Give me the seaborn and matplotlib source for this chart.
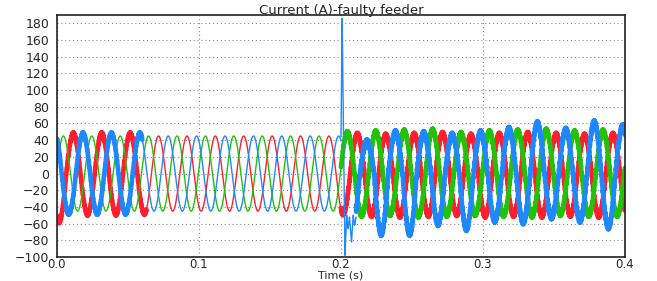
import numpy as np
import pandas as pd
import matplotlib
matplotlib.use("Agg")
import matplotlib.pyplot as plt
import seaborn as sns

# fundamental and the high-frequency ripple that makes the bands look thick
FREQ = 50.0
RIPPLE_FREQ = 1900.0
T_END = 0.4

# time of first positive peak per phase (s)
GREEN_T0 = 0.0045
RED_T0 = 0.0115
BLUE_T0 = -0.0017

# per-cycle positive peak / negative trough magnitudes (A),
# peaks at T0 + 0.02k, troughs at T0 - 0.01 + 0.02k, k = 0..20
GREEN_PEAKS = [45, 45, 45, 45, 45, 45, 45, 45, 45, 45,
               49, 50, 51, 52, 48, 50, 51, 52, 50, 51, 50]
GREEN_TROUGHS = [45, 45, 45, 45, 45, 45, 45, 45, 45, 45, 45,
                 50, 49, 51, 50, 49, 50, 51, 49, 50, 50]
RED_PEAKS = [48, 48, 48, 45, 45, 45, 45, 45, 45, 45,
             47, 46, 47, 48, 46, 47, 48, 47, 46, 47, 47]
RED_TROUGHS = [58, 49, 49, 48, 45, 45, 45, 45, 45, 45,
               48, 50, 51, 50, 49, 51, 50, 51, 50, 51, 50]
BLUE_PEAKS = [49, 48, 48, 48, 45, 45, 45, 45, 45, 45, 45,
              38, 49, 48, 46, 49, 53, 60, 52, 61, 56]
BLUE_TROUGHS = [48, 48, 48, 48, 45, 45, 45, 45, 45, 45, 45,
                58, 72, 72, 60, 66, 56, 58, 52, 56, 64]

# ripple amplitude (A), constant from each start time onward (0 = clean trace)
GREEN_RIPPLE_T = [0.0, 0.2]
GREEN_RIPPLE_A = [0.0, 2.0]
RED_RIPPLE_T = [0.0, 0.063, 0.2]
RED_RIPPLE_A = [1.5, 0.0, 2.0]
BLUE_RIPPLE_T = [0.0, 0.060, 0.2]
BLUE_RIPPLE_A = [1.5, 0.0, 3.0]

# fault transient on the blue phase
FAULT_T = [0.2000, 0.2008, 0.2028, 0.2040, 0.2050, 0.2060, 0.2074, 0.2086, 0.2096, 0.2106]
FAULT_I = [44, 186, -98, -50, -66, -52, -82, -50, -62, -52]

COLORS = {"green": "#22c20a", "red": "#ff1f2f", "blue": "#1f88ff"}
THIN_LW = 1.0
THICK_LW = 3.3


def build_phase(t, t0, peaks, troughs, ripple_t, ripple_a, shift):
    peaks = np.asarray(peaks, float)
    troughs = np.asarray(troughs, float)
    lobe = np.rint((t - (t0 - 0.01)) / 0.01).astype(int)
    amp = np.where(lobe % 2 == 0, troughs[lobe // 2], peaks[(lobe - 1) // 2])
    base = amp * np.cos(2 * np.pi * FREQ * (t - t0))
    idx = np.searchsorted(ripple_t, t, side="right") - 1
    ra = np.asarray(ripple_a)[idx]
    return base + ra * np.sin(2 * np.pi * RIPPLE_FREQ * t + shift), idx, ra > 0


t = np.arange(0.0, T_END, 1 / 50000)
green = build_phase(t, GREEN_T0, GREEN_PEAKS, GREEN_TROUGHS, GREEN_RIPPLE_T, GREEN_RIPPLE_A, 0.0)
red = build_phase(t, RED_T0, RED_PEAKS, RED_TROUGHS, RED_RIPPLE_T, RED_RIPPLE_A, 2.1)
blue = list(build_phase(t, BLUE_T0, BLUE_PEAKS, BLUE_TROUGHS, BLUE_RIPPLE_T, BLUE_RIPPLE_A, 4.2))
win = (t >= FAULT_T[0]) & (t <= FAULT_T[-1])
blue[0] = np.where(win, np.interp(t, FAULT_T, FAULT_I), blue[0])
blue[2] = blue[2] & ~win
blue[1] = np.where(win, -1, blue[1])

sns.set_theme(style="white")
plt.rcParams["font.family"] = ["DejaVu Sans"]

fig = plt.figure(figsize=(6.57, 2.81), dpi=100)
ax = fig.add_axes([57 / 657, 1 - 257 / 281, 568 / 657, 242 / 281])

for name, (vals, seg, noisy) in [("red", red), ("green", green), ("blue", blue)]:
    # split the trace into contiguous runs so thin and thick parts are drawn separately
    run = np.concatenate([[0], np.cumsum(np.diff(seg) != 0)])
    d = pd.DataFrame({"t": t, "i": vals, "run": run,
                      "w": np.where(noisy, "thick", "thin")})
    sns.lineplot(data=d, x="t", y="i", units="run", size="w",
                 sizes={"thin": THIN_LW, "thick": THICK_LW}, color=COLORS[name],
                 estimator=None, sort=False, legend=False, ax=ax)

ax.set_xlim(0, 0.4)
ax.set_ylim(-100, 190)
ax.set_xticks([0.0, 0.1, 0.2, 0.3, 0.4])
ax.set_xticklabels(["0.0", "0.1", "0.2", "0.3", "0.4"])
ax.set_yticks(np.arange(-100, 181, 20))
ax.grid(True, color="#8a8a8a", linestyle=(0, (1, 2.5)), linewidth=0.8)
ax.tick_params(axis="y", direction="out", length=4.5, width=1, color="#222", labelsize=9, pad=1)
ax.tick_params(axis="x", length=0, labelsize=8.5, pad=0.5)
for s in ax.spines.values():
    s.set_color("#222")
    s.set_linewidth(1.2)
ax.set_title("Current (A)-faulty feeder", fontsize=9.5, pad=1)
ax.set_xlabel("Time (s)", fontsize=8, labelpad=-0.5)
ax.set_ylabel("")

fig.savefig("out.png", dpi=100)
